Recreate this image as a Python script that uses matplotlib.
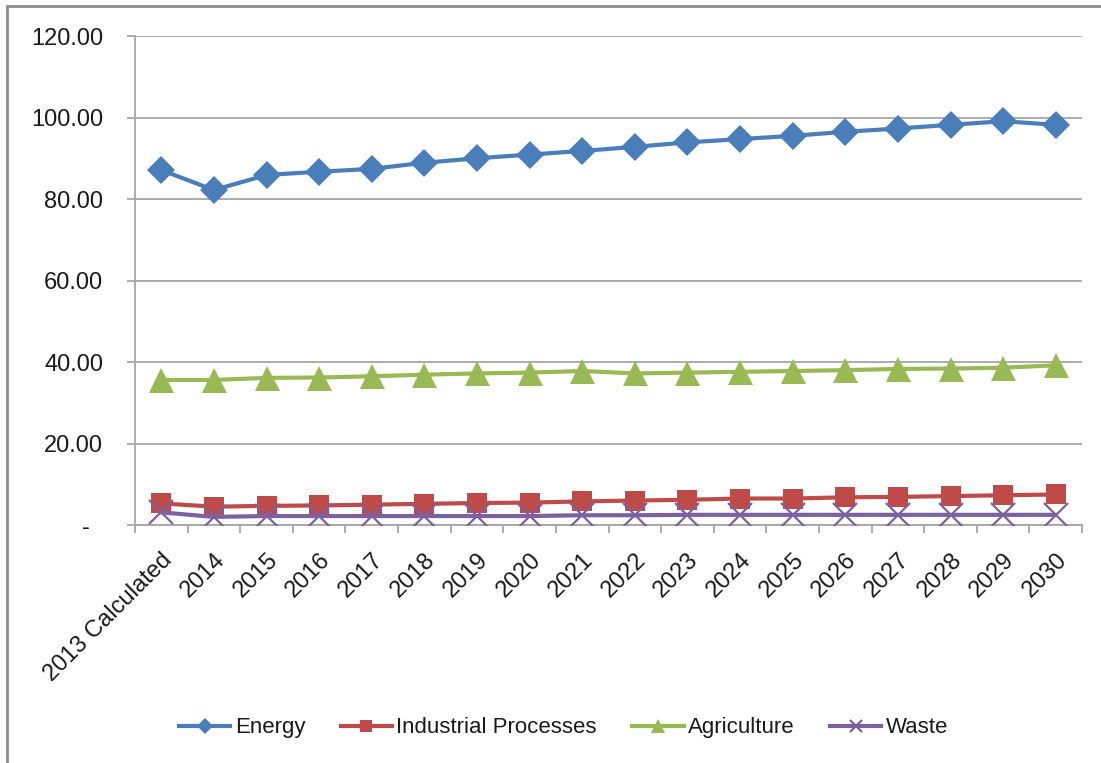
import matplotlib.pyplot as plt
from matplotlib.patches import Rectangle
from matplotlib.ticker import FuncFormatter

plt.rcParams['font.family'] = ['Liberation Sans', 'DejaVu Sans']

# emissions by sector, base year plus projections
years = ['2013 Calculated', '2014', '2015', '2016', '2017', '2018', '2019', '2020',
         '2021', '2022', '2023', '2024', '2025', '2026', '2027', '2028', '2029', '2030']
energy = [87.1, 82.2, 85.9, 86.7, 87.4, 88.9, 90.0, 90.9, 91.8,
          92.8, 93.9, 94.7, 95.5, 96.5, 97.3, 98.2, 99.1, 98.2]
industrial = [5.3, 4.5, 4.7, 4.8, 5.0, 5.2, 5.4, 5.5, 5.8,
              6.0, 6.2, 6.5, 6.5, 6.8, 6.9, 7.1, 7.3, 7.5]
agriculture = [35.6, 35.6, 36.1, 36.2, 36.5, 36.9, 37.2, 37.4, 37.8,
               37.2, 37.4, 37.6, 37.8, 38.0, 38.3, 38.4, 38.6, 39.2]
waste = [3.1, 2.0, 2.2, 2.2, 2.2, 2.2, 2.2, 2.2, 2.4,
         2.4, 2.5, 2.5, 2.5, 2.5, 2.5, 2.5, 2.5, 2.5]

series = [
    ('Energy', energy, '#4A7EBB', 'D', 14),
    ('Industrial Processes', industrial, '#BE4B48', 's', 15),
    ('Agriculture', agriculture, '#98B954', '^', 18),
    ('Waste', waste, '#7D60A0', 'x', 17),
]

fig = plt.figure(figsize=(11.01, 7.63), dpi=100)
ax = fig.add_axes([0.1226, 0.3119, 0.8602, 0.6409])

x = range(len(years))
handles = []
for name, vals, color, marker, ms in series:
    h, = ax.plot(x, vals, color=color, lw=3, marker=marker, markersize=ms,
                 markeredgewidth=1.6 if marker == 'x' else 0, markeredgecolor=color,
                 label=name, zorder=3)
    handles.append(h)

ax.set_xlim(-0.5, len(years) - 0.5)
ax.set_ylim(0, 120)
ax.set_yticks(range(0, 121, 20))
ax.yaxis.set_major_formatter(FuncFormatter(lambda v, p: '-  ' if v == 0 else f'{v:.2f}'))
ax.grid(axis='y', color='#A6A6A6', lw=1.3)
ax.set_axisbelow(True)

ax.set_xticks(list(x))
ax.set_xticklabels(years, rotation=45, ha='right', rotation_mode='anchor')
ax.set_xticks([i - 0.5 for i in range(len(years) + 1)], minor=True)
ax.tick_params(axis='x', which='major', length=0, pad=17, labelsize=17, labelcolor='#1a1a1a')
ax.tick_params(axis='x', which='minor', length=6, color='#A6A6A6', width=1.3)
ax.tick_params(axis='y', length=6, color='#A6A6A6', width=1.3, pad=17, labelsize=17,
               labelcolor='#1a1a1a')

for side in ['top', 'right']:
    ax.spines[side].set_visible(False)
for side in ['left', 'bottom']:
    ax.spines[side].set_color('#A6A6A6')
    ax.spines[side].set_linewidth(1.3)

fig.legend(handles=handles, loc='center', bbox_to_anchor=(0.512, 0.046), ncol=4,
           frameon=False, fontsize=16, handlelength=2.3, handletextpad=0.2,
           columnspacing=1.6, markerscale=0.55, labelcolor='#1a1a1a')

# chart area border
fig.patches.append(Rectangle((7 / 1101, -0.1), 1.1, 1.1 - 6 / 763, transform=fig.transFigure,
                             fill=False, edgecolor='#8C8C8C', lw=2))

fig.savefig('out.png', dpi=100)
